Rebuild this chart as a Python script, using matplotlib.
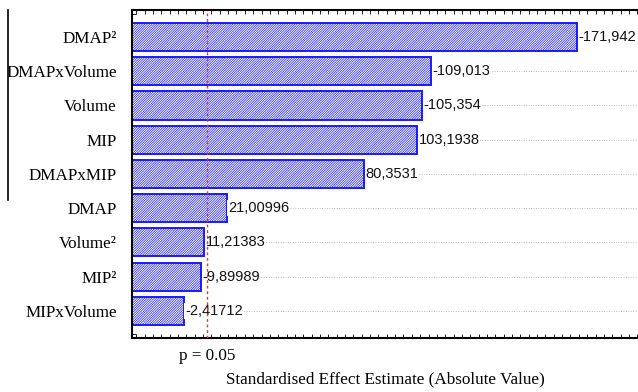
import matplotlib
matplotlib.use("Agg")
import matplotlib.pyplot as plt
from matplotlib.lines import Line2D
from matplotlib.ticker import MultipleLocator
import numpy as np

# Pareto chart of standardised effects
TERMS = ["DMAP²", "DMAPxVolume", "Volume", "MIP", "DMAPxMIP",
         "DMAP", "Volume²", "MIP²", "MIPxVolume"]
EFFECTS = [171.942, 109.013, 105.354, 103.1938, 80.3531,
           21.00996, 11.21383, 9.89989, 2.41712]
LABELS = ["-171,942", "-109,013", "-105,354", "103,1938", "80,3531",
          "21,00996", "11,21383", "-9,89989", "-2,41712"]
P_CRIT = 12.6
XMIN, XMAX = -19.8, 198.3

BLUE = "#1a1aff"
plt.rcParams["hatch.color"] = "#3a3aff"
plt.rcParams["hatch.linewidth"] = 0.5

fig = plt.figure(figsize=(6.38, 3.92), dpi=100)
ax = fig.add_axes([0.207, 0.138, 0.793, 0.8365])

y = np.arange(len(TERMS))
vals = np.array(EFFECTS)

for yi in y:
    ax.axhline(yi, color="#bbbbbb", lw=0.7, ls=(0, (1, 1.5)), zorder=0)

ax.barh(y, vals - XMIN, left=XMIN, height=0.82, color="white",
        edgecolor=BLUE, lw=1.4, hatch="/" * 14, zorder=2)

for yi, v, lab in zip(y, vals, LABELS):
    t = ax.text(v + 0.6, yi, lab, va="center", ha="left",
                fontsize=10.5, family="Liberation Sans", color="#111111", zorder=3)
    t.set_bbox(dict(facecolor="white", edgecolor="none", pad=0.5))

# critical value line drawn over bars and labels
ax.axvline(P_CRIT, color="#ff2a2a", lw=1.0, ls=(0, (2, 2)), zorder=5)

ax.set_xlim(XMIN, XMAX)
ax.set_ylim(len(TERMS) - 1 + 0.79, -0.79)
ax.set_yticks(y)
ax.set_yticklabels(TERMS, family="Liberation Serif", fontsize=12.3)
ax.yaxis.set_minor_locator(MultipleLocator(1 / 3))
ax.set_xticks([])
ax.xaxis.set_minor_locator(MultipleLocator(3.6))
ax.tick_params(axis="y", which="major", direction="in", length=4, pad=11)
ax.tick_params(axis="y", which="minor", direction="in", length=3)
ax.tick_params(axis="x", which="minor", direction="in", length=3,
               top=True, bottom=True)

for s in ["left", "top", "bottom"]:
    ax.spines[s].set_linewidth(1.5)
ax.spines["right"].set_visible(False)

ax.text(P_CRIT, -0.03, "p = 0.05", transform=ax.get_xaxis_transform(),
        ha="center", va="top", family="Liberation Serif", fontsize=12.3)
ax.set_xlabel("Standardised Effect Estimate (Absolute Value)",
              family="Liberation Serif", fontsize=12.3, labelpad=21)

# stray vertical rule at the left edge
fig.add_artist(Line2D([8 / 638, 8 / 638], [1 - 10 / 392, 1 - 200 / 392],
                      color="black", lw=1.2))

fig.savefig("out.png", dpi=100)
